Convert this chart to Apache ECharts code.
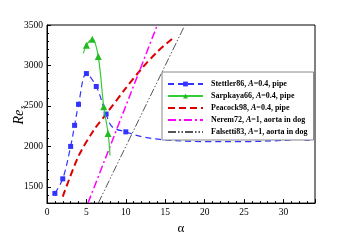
<!DOCTYPE html>
<html><head><meta charset="utf-8">
<script src="https://cdn.jsdelivr.net/npm/echarts@6/dist/echarts.min.js"></script>
<style>html,body{margin:0;padding:0;background:#fff}#c{width:359px;height:240px}</style>
</head><body><div id="c"></div>
<script>
// ---- data ----
const stettlerAlpha = [1, 2, 3, 3.5, 4, 5, 6.25, 7.5, 8.3, 10, 12, 15, 20, 25, 30, 33];
const stettlerRe    = [1420, 1600, 2000, 2260, 2520, 2900, 2740, 2400, 2240, 2180, 2120, 2080, 2060, 2060, 2075, 2100];
const stettlerMarked = [1, 2, 3, 3.5, 4, 5, 6.25, 7.5, 10, 33];

const sarpkayaAlpha = [4.6, 5, 5.75, 6.5, 7.2, 7.75, 8];
const sarpkayaRe    = [3150, 3250, 3325, 3110, 2490, 2160, 1890];
const sarpkayaMarked = [5, 5.75, 6.5, 7.2, 7.75];

const peacockAlpha = [2, 4, 6, 7.5, 10, 12, 14, 16];
const peacockRe    = [1380, 1880, 2210, 2400, 2720, 2960, 3170, 3340];

const neremAlpha = [5.2, 13.9];
const neremRe    = [1300, 3475];

const falsettiAlpha = [6.5, 17.45];
const falsettiRe    = [1300, 3490];

const seriesNames = ['Stettler86', 'Sarpkaya66', 'Peacock98', 'Nerem72', 'Falsetti83'];
const legendA     = ['0.4', '0.4', '0.4', '1', '1'];
const legendTail  = ['pipe', 'pipe', 'pipe', 'aorta in dog', 'aorta in dog'];

const xTicks = [0, 5, 10, 15, 20, 25, 30];
const yTicks = [1500, 2000, 2500, 3000, 3500];

// ---- build ----
function pts(xs, ys, marked) {
  return xs.map((x, i) => {
    const item = { value: [x, ys[i]] };
    if (marked && marked.indexOf(x) < 0) item.symbol = 'none';
    return item;
  });
}
const serif = '"Liberation Serif","Times New Roman",Times,serif';
const chart = echarts.init(document.getElementById('c'), null, { renderer: 'canvas' });
chart.setOption({
  animation: false,
  backgroundColor: '#fff',
  grid: { left: 47, top: 25, right: 44, bottom: 32, show: true, borderColor: '#000', borderWidth: 1, backgroundColor: 'transparent' },
  xAxis: {
    type: 'value', min: 0, max: 34, interval: 5,
    name: 'α', nameLocation: 'middle', nameGap: 12,
    nameTextStyle: { fontFamily: serif, fontSize: 13, color: '#000' },
    axisLine: { lineStyle: { color: '#000', width: 1 } },
    axisTick: { inside: true, length: 4, lineStyle: { color: '#000' } },
    minorTick: { show: true, splitNumber: 5, length: 2, lineStyle: { color: '#000' } },
    splitLine: { show: false },
    axisLabel: { fontFamily: serif, fontSize: 9.5, color: '#000', margin: 4, showMaxLabel: false,
      formatter: v => xTicks.indexOf(v) >= 0 ? String(v) : '' }
  },
  yAxis: {
    type: 'value', min: 1300, max: 3500, splitNumber: 4,
    axisLine: { show: true, lineStyle: { color: '#000', width: 1 } },
    axisTick: { show: true, inside: true, length: 4, lineStyle: { color: '#000' } },
    minorTick: { show: true, splitNumber: 5, length: 2, lineStyle: { color: '#000' } },
    splitLine: { show: false },
    axisLabel: { fontFamily: serif, fontSize: 9.5, color: '#000', margin: 4, showMinLabel: false,
      formatter: v => yTicks.indexOf(v) >= 0 ? String(v) : '' }
  },
  graphic: [{
    type: 'text', x: 19, y: 115, rotation: Math.PI / 2,
    style: {
      text: '{a|Re}{s|s}', align: 'center', verticalAlign: 'middle',
      rich: {
        a: { fontFamily: serif, fontStyle: 'italic', fontSize: 14, fill: '#000', lineHeight: 16 },
        s: { fontFamily: serif, fontStyle: 'italic', fontSize: 8, fill: '#000', padding: [7, 0, 0, 1] }
      }
    }
  }],
  legend: {
    orient: 'vertical', left: 162, top: 72,
    padding: [7, 6, 3, 5], itemGap: 2, itemWidth: 35, itemHeight: 6,
    borderColor: '#888', borderWidth: 1, backgroundColor: '#fff',
    data: seriesNames.map((n, i) => i < 2 ? { name: n } : { name: n, itemStyle: { opacity: 0 } }),
    formatter: function (name) {
      const i = seriesNames.indexOf(name);
      return '{b|' + name + ', }{i|A}{b|=' + legendA[i] + ', ' + legendTail[i] + '}';
    },
    textStyle: {
      fontFamily: serif, fontSize: 8, color: '#000', lineHeight: 10, padding: [0, 0, 0, 3],
      rich: {
        b: { fontFamily: serif, fontWeight: 'bold', fontSize: 8, color: '#000' },
        i: { fontFamily: serif, fontWeight: 'bold', fontStyle: 'italic', fontSize: 8, color: '#000' }
      }
    }
  },
  series: [
    { name: seriesNames[0], type: 'line', smooth: 0.35, z: 3,
      data: pts(stettlerAlpha, stettlerRe, stettlerMarked),
      symbol: 'rect', symbolSize: 5, showSymbol: true,
      lineStyle: { color: '#3333ff', width: 1.2, type: [6, 4] },
      itemStyle: { color: '#3333ff' } },
    { name: seriesNames[1], type: 'line', smooth: 0.35, z: 4,
      data: pts(sarpkayaAlpha, sarpkayaRe, sarpkayaMarked),
      symbol: 'triangle', symbolSize: 7, showSymbol: true,
      lineStyle: { color: '#33cc33', width: 1.2, type: 'solid' },
      itemStyle: { color: '#22bb22' } },
    { name: seriesNames[2], type: 'line', smooth: 0.3, z: 2,
      data: pts(peacockAlpha, peacockRe), showSymbol: false, symbol: 'none',
      lineStyle: { color: '#dd0000', width: 2, type: [7, 4] },
      itemStyle: { color: '#dd0000' } },
    { name: seriesNames[3], type: 'line', z: 2,
      data: pts(neremAlpha, neremRe), showSymbol: false, symbol: 'none',
      lineStyle: { color: '#ff00ff', width: 1.5, type: [8, 3, 2, 3] },
      itemStyle: { color: '#ff00ff' } },
    { name: seriesNames[4], type: 'line', z: 2,
      data: pts(falsettiAlpha, falsettiRe), showSymbol: false, symbol: 'none',
      lineStyle: { color: '#555555', width: 1, type: [8, 2, 1.5, 2, 1.5, 2] },
      itemStyle: { color: '#555555' } }
  ]
});
</script></body></html>
